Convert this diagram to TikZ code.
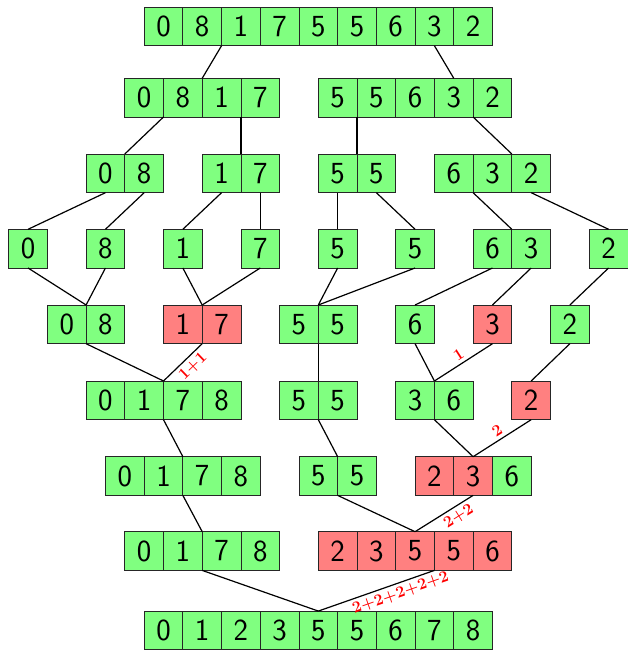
\documentclass[tikz,border=0pt]{standalone}
\usepackage{tikz}

\begin{document}
\begin{tikzpicture}[x=29pt, y=-29pt,
  cell/.style={draw=black!85, line width=0.6pt, minimum size=29pt,
    inner sep=0pt, outer sep=0pt, font=\sffamily\fontsize{23}{27}\selectfont},
  lbl/.style={red, sloped, inner sep=2.5pt,
    font=\bfseries\fontsize{12}{14}\selectfont}]

  % --- Farben ---
  \definecolor{colg}{HTML}{80FF80} % Gruen - normal
  \definecolor{colr}{HTML}{FF8080} % Rot   - gezaehlt

  % --- Hilfsmakro: \cells{Name}{linker Rand}{Zeile}{Ziffer/Farbe,...} ---
  \newcommand{\cells}[4]{%
    \foreach \z/\f [count=\i] in {#4} {
      \node[cell, fill=\f] (#1-\i) at ({#2+\i-0.5}, #3) {\z};
    }
  }

  \useasboundingbox (-0.225,0) rectangle (16,16.796);

  % --- Aufteilen ---
  \cells{r1}{3.5}{0.681}{0/colg,8/colg,1/colg,7/colg,5/colg,5/colg,6/colg,3/colg,2/colg}

  \cells{r2a}{3}{2.523}{0/colg,8/colg,1/colg,7/colg}
  \cells{r2b}{8}{2.523}{5/colg,5/colg,6/colg,3/colg,2/colg}

  \cells{r3a}{2}{4.479}{0/colg,8/colg}
  \cells{r3b}{5}{4.479}{1/colg,7/colg}
  \cells{r3c}{8}{4.479}{5/colg,5/colg}
  \cells{r3d}{11}{4.479}{6/colg,3/colg,2/colg}

  \cells{r4a}{0}{6.425}{0/colg}
  \cells{r4b}{2}{6.425}{8/colg}
  \cells{r4c}{4}{6.425}{1/colg}
  \cells{r4d}{6}{6.425}{7/colg}
  \cells{r4e}{8}{6.425}{5/colg}
  \cells{r4f}{10}{6.425}{5/colg}
  \cells{r4g}{12}{6.425}{6/colg,3/colg}
  \cells{r4h}{15}{6.425}{2/colg}

  % --- Zusammenfuegen ---
  \cells{r5a}{1}{8.381}{0/colg,8/colg}
  \cells{r5b}{4}{8.381}{1/colr,7/colr}
  \cells{r5c}{7}{8.381}{5/colg,5/colg}
  \cells{r5d}{10}{8.381}{6/colg}
  \cells{r5e}{12}{8.381}{3/colr}
  \cells{r5f}{14}{8.381}{2/colg}

  \cells{r6a}{2}{10.345}{0/colg,1/colg,7/colg,8/colg}
  \cells{r6b}{7}{10.345}{5/colg,5/colg}
  \cells{r6c}{10}{10.345}{3/colg,6/colg}
  \cells{r6d}{13}{10.345}{2/colr}

  \cells{r7a}{2.5}{12.301}{0/colg,1/colg,7/colg,8/colg}
  \cells{r7b}{7.5}{12.301}{5/colg,5/colg}
  \cells{r7c}{10.5}{12.301}{2/colr,3/colr,6/colg}

  \cells{r8a}{3}{14.239}{0/colg,1/colg,7/colg,8/colg}
  \cells{r8b}{8}{14.239}{2/colr,3/colr,5/colr,5/colr,6/colr}

  \cells{r9}{3.5}{16.29}{0/colg,1/colg,2/colg,3/colg,5/colg,5/colg,6/colg,7/colg,8/colg}

  % --- Verbindungen ---
  \begin{scope}[line width=0.9pt]
    \draw (r1-3.south west) -- (r2a-3.north west);
    \draw (r1-8.south) -- (r2b-4.north);

    \draw (r2a-1.south east) -- (r3a-1.north east);
    \draw (r2a-3.south east) -- (r3b-1.north east);
    \draw (r2b-1.south east) -- (r3c-1.north east);
    \draw (r2b-4.south east) -- (r3d-2.north east);

    \draw (r3a-1.south) -- (r4a-1.north);
    \draw (r3a-2.south) -- (r4b-1.north);
    \draw (r3b-1.south) -- (r4c-1.north);
    \draw (r3b-2.south) -- (r4d-1.north);
    \draw (r3c-1.south) -- (r4e-1.north);
    \draw (r3c-2.south) -- (r4f-1.north);
    \draw (r3d-1.south east) -- (r4g-1.north east);
    \draw (r3d-3.south) -- (r4h-1.north);

    \draw (r4a-1.south) -- (r5a-1.north east);
    \draw (r4b-1.south) -- (r5a-1.north east);
    \draw (r4c-1.south) -- (r5b-1.north east);
    \draw (r4d-1.south) -- (r5b-1.north east);
    \draw (r4e-1.south) -- (r5c-1.north east);
    \draw (r4f-1.south) -- (r5c-1.north east);
    \draw (r4g-1.south) -- (r5d-1.north);
    \draw (r4g-2.south) -- (r5e-1.north);
    \draw (r4h-1.south) -- (r5f-1.north);

    \draw (r5a-1.south east) -- (r6a-2.north east);
    \draw (r5b-1.south east) -- node[lbl, below, pos=0.42] {1+1} (r6a-2.north east);
    \draw (r5c-1.south east) -- (r6b-1.north east);
    \draw (r5d-1.south) -- (r6c-1.north east);
    \draw (r5e-1.south) -- node[lbl, above, pos=0.5] {1} (r6c-1.north east);
    \draw (r5f-1.south) -- (r6d-1.north);

    \draw (r6a-2.south east) -- (r7a-2.north east);
    \draw (r6b-1.south east) -- (r7b-1.north east);
    \draw (r6c-1.south east) -- (r7c-2.north);
    \draw (r6d-1.south) -- node[lbl, above, pos=0.5] {2} (r7c-2.north);

    \draw (r7a-2.south east) -- (r8a-2.north east);
    \draw (r7b-1.south east) -- (r8b-3.north);
    \draw (r7c-2.south) -- node[lbl, below, pos=0.34] {2+2} (r8b-3.north);

    \draw (r8a-2.south east) -- (r9-5.north);
    \draw (r8b-3.south east) -- node[lbl, below, pos=0.32] {2+2+2+2+2} (r9-5.north);
  \end{scope}

\end{tikzpicture}
\end{document}
